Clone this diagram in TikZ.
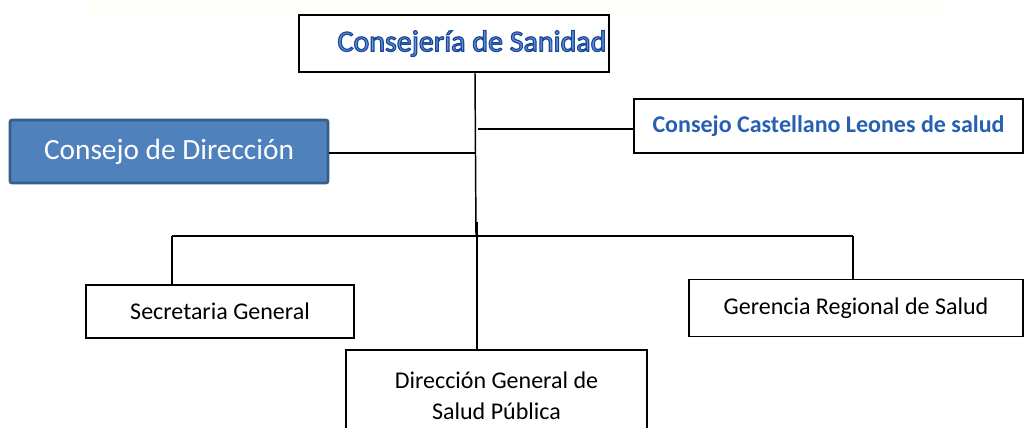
\documentclass[tikz,border=0pt]{standalone}
\usepackage{fontspec}
\setmainfont{Carlito}
\usepackage{xcolor}
\usetikzlibrary{positioning}
\definecolor{cdfill}{RGB}{79,129,189}
\definecolor{cdline}{RGB}{56,93,138}
\definecolor{titblue}{RGB}{96,150,220}
\definecolor{ccblue}{RGB}{38,96,178}
% outlined title text
\newcommand{\outlined}[1]{\special{pdf:literal direct 2 Tr 0.9 w 0.11 0.28 0.6 RG}#1\special{pdf:literal direct 0 Tr}}
\tikzset{
  orgbox/.style={draw=black, line width=1.1pt, fill=white, align=center, inner sep=0pt},
  conn/.style={draw=black, line width=1.1pt}
}

\begin{document}
\begin{tikzpicture}[x=0.75pt,y=0.75pt,yscale=-1]
\clip (0,0) rectangle (1025,428);
\useasboundingbox (0,0) rectangle (1025,428);
\fill[white] (0,0) rectangle (1025,428);
\fill[yellow!2] (90,0) rectangle (940,14);
% boxes
\node[orgbox, minimum width=232.5pt, minimum height=42.75pt,
  font=\fontsize{22.5}{24}\selectfont, text=titblue] (consejeria) at (454,43.5)
  {\hspace*{27pt}\outlined{Consejería de Sanidad}};
\node[draw=cdline, line width=2pt, fill=cdfill, rounded corners=1.5pt, minimum width=238.5pt, minimum height=47.25pt, inner sep=0pt,
  font=\fontsize{22}{24}\selectfont, text=white] (direccion) at (169,151.5)
  {Consejo de Dirección};
\node[orgbox, minimum width=291.75pt, minimum height=40.5pt,
  font=\fontsize{18}{20}\selectfont\bfseries, text=ccblue] (castellano) at (828.5,126)
  {Consejo Castellano Leones de salud};
\node[orgbox, minimum width=201pt, minimum height=39.75pt,
  font=\fontsize{18}{20}\selectfont] (secretaria) at (220,311.5)
  {Secretaria General};
\node[orgbox, minimum width=250.5pt, minimum height=42.75pt,
  font=\fontsize{18}{20}\selectfont] (gerencia) at (856,308)
  {Gerencia Regional de Salud};
\node[orgbox, minimum width=225.75pt, minimum height=69pt,
  font=\fontsize{18}{23}\selectfont] (dgsp) at (496.5,396)
  {Dirección General de\\ Salud Pública};
% connectors
\coordinate (bar) at (476,236);
\coordinate (barb) at (477,222);
\coordinate (barl) at (172,236);
\coordinate (barr) at (853,236);
\coordinate (tapcd) at (476,153);
\coordinate (tapcc) at (478,129);
\draw[conn] (consejeria.south -| 475,0) -- (bar);
\draw[conn] (barb) -- (dgsp.north -| barb);
\draw[conn] (barl) -- (barr);
\draw[conn] (barl) -- (secretaria.north -| barl);
\draw[conn] (barr) -- (gerencia.north -| barr);
\draw[conn] (direccion.east |- tapcd) -- (tapcd);
\draw[conn] (tapcc) -- (castellano.west |- tapcc);
\end{tikzpicture}
\end{document}
